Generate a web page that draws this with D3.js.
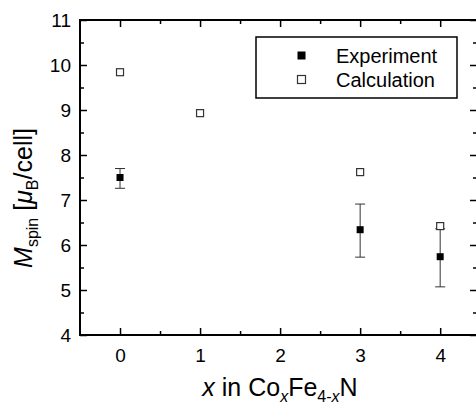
<!DOCTYPE html>
<html>
<head>
<meta charset="utf-8">
<script src="https://cdn.jsdelivr.net/npm/d3@7"></script>
<style>
  body { margin: 0; background: #fff; }
  text { font-family: "Liberation Sans", Arial, sans-serif; fill: #000; }
</style>
</head>
<body>
<svg id="chart" width="476" height="407"></svg>
<script>
// data
var xValues = [0, 3, 4];
var expValues = [7.5, 6.34, 5.74];
var expErrLow = [7.26, 5.73, 5.07];
var expErrHigh = [7.7, 6.91, 6.36];
var calcX = [0, 1, 3, 4];
var calcValues = [9.84, 8.93, 7.62, 6.42];
var xTicks = [0, 1, 2, 3, 4];
var yTicks = [4, 5, 6, 7, 8, 9, 10, 11];

var svg = d3.select("#chart");
var plotL = 80, plotR = 477, plotT = 20, plotB = 335;

var x = d3.scaleLinear().domain([-0.5, 4.46]).range([plotL, plotR]);
var y = d3.scaleLinear().domain([4, 11]).range([plotB, plotT]);

// axes: ticks inward, minor ticks at half steps
function minor(ticks) {
    var out = [];
    for (var i = 0; i < ticks.length - 1; i++) out.push((ticks[i] + ticks[i + 1]) / 2);
    return out;
}

var axisFont = "19px";

svg.append("g")
    .attr("transform", "translate(0," + plotB + ")")
    .call(d3.axisBottom(x).tickValues(xTicks).tickSize(-7).tickPadding(14).tickFormat(d3.format("d")))
    .call(function(g) {
        g.select(".domain").remove();
        g.selectAll("text").style("font-size", axisFont).attr("font-family", null);
    });
svg.append("g")
    .attr("transform", "translate(0," + plotB + ")")
    .call(d3.axisBottom(x).tickValues(minor(xTicks.concat([5]))).tickSize(-4).tickFormat(""))
    .call(function(g) { g.select(".domain").remove(); });

svg.append("g")
    .attr("transform", "translate(0," + plotT + ")")
    .call(d3.axisTop(x).tickValues(xTicks).tickSize(-7).tickFormat(""))
    .call(function(g) { g.select(".domain").remove(); });
svg.append("g")
    .attr("transform", "translate(0," + plotT + ")")
    .call(d3.axisTop(x).tickValues(minor(xTicks.concat([5]))).tickSize(-4).tickFormat(""))
    .call(function(g) { g.select(".domain").remove(); });

svg.append("g")
    .attr("transform", "translate(" + plotL + ",0)")
    .call(d3.axisLeft(y).tickValues(yTicks).tickSize(-7).tickPadding(9).tickFormat(d3.format("d")))
    .call(function(g) {
        g.select(".domain").remove();
        g.selectAll("text").style("font-size", axisFont).attr("font-family", null);
    });
svg.append("g")
    .attr("transform", "translate(" + plotL + ",0)")
    .call(d3.axisLeft(y).tickValues(minor(yTicks)).tickSize(-4).tickFormat(""))
    .call(function(g) { g.select(".domain").remove(); });

svg.append("g")
    .attr("transform", "translate(" + plotR + ",0)")
    .call(d3.axisRight(y).tickValues(yTicks).tickSize(-7).tickFormat(""))
    .call(function(g) { g.select(".domain").remove(); });
svg.append("g")
    .attr("transform", "translate(" + plotR + ",0)")
    .call(d3.axisRight(y).tickValues(minor(yTicks)).tickSize(-4).tickFormat(""))
    .call(function(g) { g.select(".domain").remove(); });

svg.selectAll(".tick line").attr("stroke", "#000").attr("stroke-width", 1.5);

// frame
svg.append("rect")
    .attr("x", plotL).attr("y", plotT)
    .attr("width", plotR - plotL).attr("height", plotB - plotT)
    .attr("fill", "none").attr("stroke", "#000").attr("stroke-width", 2);

// error bars
var err = svg.append("g").attr("class", "errors")
    .attr("stroke", "#333").attr("stroke-width", 1);
xValues.forEach(function(xv, i) {
    var cx = x(xv);
    err.append("line").attr("x1", cx).attr("x2", cx)
        .attr("y1", y(expErrLow[i])).attr("y2", y(expErrHigh[i]));
    [expErrLow[i], expErrHigh[i]].forEach(function(v) {
        err.append("line").attr("x1", cx - 5).attr("x2", cx + 5)
            .attr("y1", y(v)).attr("y2", y(v));
    });
});

// calculation (open squares)
svg.append("g").selectAll("rect")
    .data(calcX)
    .join("rect")
    .attr("x", function(d) { return x(d) - 3.5; })
    .attr("y", function(d, i) { return y(calcValues[i]) - 3.5; })
    .attr("width", 7).attr("height", 7)
    .attr("fill", "#fff").attr("stroke", "#333").attr("stroke-width", 1.2);

// experiment (filled squares)
svg.append("g").selectAll("rect")
    .data(xValues)
    .join("rect")
    .attr("x", function(d) { return x(d) - 3.5; })
    .attr("y", function(d, i) { return y(expValues[i]) - 3.5; })
    .attr("width", 7).attr("height", 7)
    .attr("fill", "#000");

// legend
var legend = svg.append("g");
legend.append("rect")
    .attr("x", 256).attr("y", 37).attr("width", 201).attr("height", 61)
    .attr("fill", "#fff").attr("stroke", "#000").attr("stroke-width", 1.5);
legend.append("rect").attr("x", 297.5).attr("y", 51.5).attr("width", 8).attr("height", 8).attr("fill", "#000");
legend.append("rect").attr("x", 297.5).attr("y", 75.5).attr("width", 8).attr("height", 8)
    .attr("fill", "#fff").attr("stroke", "#333").attr("stroke-width", 1.2);
legend.append("text").attr("x", 336).attr("y", 63).style("font-size", "20px").text("Experiment");
legend.append("text").attr("x", 336).attr("y", 87).style("font-size", "20px").text("Calculation");

// axis titles
var xt = svg.append("text")
    .attr("x", 280).attr("y", 396)
    .attr("text-anchor", "middle")
    .style("font-size", "25px");
xt.append("tspan").style("font-style", "italic").text("x");
xt.append("tspan").text(" in Co");
xt.append("tspan").attr("dy", 6).style("font-size", "16px").style("font-style", "italic").text("x");
xt.append("tspan").attr("dy", -6).text("Fe");
xt.append("tspan").attr("dy", 6).style("font-size", "16px").text("4-");
xt.append("tspan").style("font-size", "16px").style("font-style", "italic").text("x");
xt.append("tspan").attr("dy", -6).text("N");

var yt = svg.append("text")
    .attr("transform", "translate(32,198) rotate(-90)")
    .attr("text-anchor", "middle")
    .style("font-size", "25px");
yt.append("tspan").style("font-style", "italic").text("M");
yt.append("tspan").attr("dy", 6).style("font-size", "16px").text("spin");
yt.append("tspan").attr("dy", -6).text(" [");
yt.append("tspan").style("font-style", "italic").text("\u03bc");
yt.append("tspan").attr("dy", 6).style("font-size", "16px").text("B");
yt.append("tspan").attr("dy", -6).text("/cell]");
</script>
</body>
</html>
